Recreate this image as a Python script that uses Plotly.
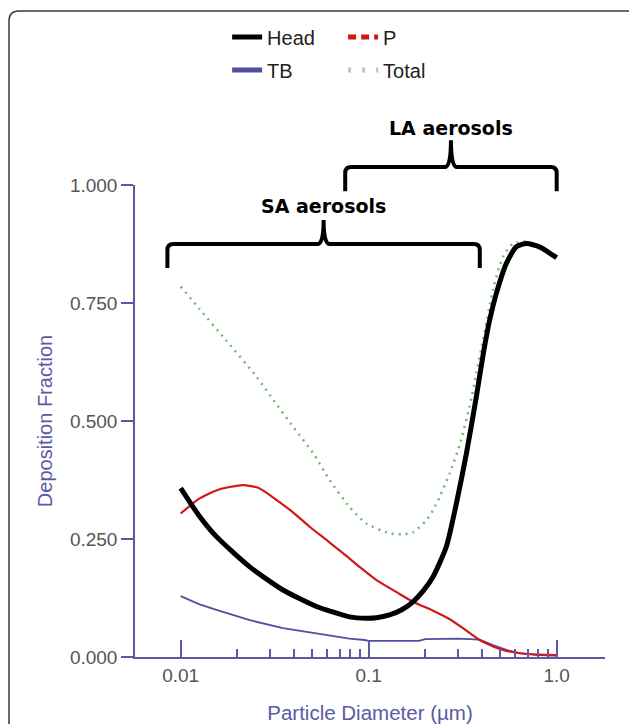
import plotly.graph_objects as go
import math

# ---------------- data ----------------
head_d = [0.01, 0.0125, 0.0155, 0.0233, 0.035, 0.0527, 0.065, 0.079, 0.097, 0.11, 0.129, 0.15, 0.172,
          0.195, 0.22, 0.259, 0.293, 0.331, 0.374, 0.406, 0.44, 0.478, 0.54, 0.61, 0.69, 0.81, 0.9, 1.0]
head_v = [0.358, 0.300, 0.255, 0.191, 0.142, 0.107, 0.095, 0.085, 0.082, 0.083, 0.089, 0.100, 0.117,
          0.140, 0.170, 0.234, 0.326, 0.431, 0.552, 0.640, 0.714, 0.771, 0.834, 0.869, 0.876, 0.869, 0.858, 0.846]

p_d = [0.01, 0.0125, 0.016, 0.0214, 0.026, 0.0323, 0.04, 0.0485, 0.06, 0.073, 0.09, 0.11, 0.14, 0.172,
       0.22, 0.27, 0.32, 0.389, 0.45, 0.518, 0.635, 0.8, 1.0]
p_v = [0.304, 0.335, 0.355, 0.364, 0.358, 0.333, 0.305, 0.276, 0.247, 0.220, 0.190, 0.163, 0.138, 0.117,
       0.098, 0.080, 0.060, 0.036, 0.024, 0.015, 0.008, 0.005, 0.004]

tb_d = [0.01, 0.0125, 0.0155, 0.0233, 0.035, 0.0527, 0.079, 0.095, 0.1, 0.185, 0.2, 0.3, 0.389, 0.458,
        0.54, 0.63, 0.8, 1.0]
tb_v = [0.129, 0.112, 0.100, 0.078, 0.061, 0.050, 0.039, 0.036, 0.034, 0.034, 0.038, 0.039, 0.037, 0.025,
        0.015, 0.008, 0.004, 0.003]

total_d = [0.01, 0.0126, 0.0175, 0.0253, 0.0316, 0.0396, 0.0506, 0.062, 0.079, 0.097, 0.129, 0.15, 0.172,
           0.203, 0.22, 0.239, 0.27, 0.305, 0.344, 0.374, 0.406, 0.458, 0.518, 0.586, 0.69, 0.81, 0.9, 1.0]
total_v = [0.785, 0.737, 0.670, 0.594, 0.541, 0.488, 0.432, 0.375, 0.318, 0.283, 0.262, 0.260, 0.264,
           0.290, 0.311, 0.340, 0.389, 0.450, 0.530, 0.601, 0.672, 0.778, 0.848, 0.876, 0.880, 0.870, 0.859, 0.848]

x_major = [0.01, 0.1, 1.0]
x_major_text = ["0.01", "0.1", "1.0"]
x_minor = [0.02, 0.03, 0.04, 0.05, 0.06, 0.07, 0.08, 0.09, 0.2, 0.3, 0.4, 0.5, 0.6, 0.7, 0.8, 0.9]
y_ticks = [0.0, 0.25, 0.5, 0.75, 1.0]

bracket_labels = ["SA aerosols", "LA aerosols"]
bracket_lo = [0.0085, 0.075]
bracket_hi = [0.39, 1.0]

# ---------------- style ----------------
AX = "#5a5aa6"
FONT = "Liberation Sans, Arial, sans-serif"
XR = [-2.243, 0.257]

fig = go.Figure()
fig.add_trace(go.Scatter(x=total_d, y=total_v, mode="lines", showlegend=False,
                         line=dict(color="#6fb86f", width=2.5, dash="2px,5px", shape="spline", smoothing=0.6)))
fig.add_trace(go.Scatter(x=tb_d, y=tb_v, mode="lines", name="TB", legend="legend2",
                         line=dict(color="#5050a0", width=1.8)))
fig.add_trace(go.Scatter(x=p_d, y=p_v, mode="lines", showlegend=False,
                         line=dict(color="#d01818", width=2.2, shape="spline", smoothing=0.6)))
fig.add_trace(go.Scatter(x=head_d, y=head_v, mode="lines", name="Head", legend="legend",
                         line=dict(color="black", width=5, shape="spline", smoothing=0.6)))
# legend-only samples matching the reference legend styles
fig.add_trace(go.Scatter(x=[None], y=[None], mode="lines", name="P", legend="legend",
                         line=dict(color="#d01818", width=3, dash="8px,5px")))
fig.add_trace(go.Scatter(x=[None], y=[None], mode="lines", name="Total", legend="legend2",
                         line=dict(color="#b8c8b8", width=3, dash="3px,11px")))

# brackets
def bracket_path(lo, hi, yh, yb, yt, r_px=6, w_px=6):
    fx = 10 ** (r_px / 188.0)
    fw = 10 ** (w_px / 188.0)
    ry = r_px / 472.0
    mid = math.sqrt(lo * hi)
    return (f"M {lo},{yb} L {lo},{yh - ry} Q {lo},{yh} {lo * fx},{yh} "
            f"L {mid / fw},{yh} Q {mid},{yh} {mid},{yt} Q {mid},{yh} {mid * fw},{yh} "
            f"L {hi / fx},{yh} Q {hi},{yh} {hi},{yh - ry} L {hi},{yb}")

levels = [(0.875, 0.824, 0.926, 0.9555), (1.038, 0.987, 1.095, 1.1208)]
shapes = []
annotations = []
for lab, lo, hi, (yh, yb, yt, ylab) in zip(bracket_labels, bracket_lo, bracket_hi, levels):
    shapes.append(dict(type="path", xref="x", yref="paper", path=bracket_path(lo, hi, yh, yb, yt),
                       line=dict(color="black", width=4)))
    annotations.append(dict(x=0.5 * (math.log10(lo) + math.log10(hi)), y=ylab, xref="x", yref="paper",
                            text=lab, showarrow=False, xanchor="center", yanchor="middle",
                            font=dict(family="DejaVu Sans", size=19, color="black", weight="bold")))

# frame border (rounded top-left)
def px2paper(px, py):
    return ((px - 135) / 470.0, (657 - py) / 472.0)
L, T = px2paper(9, 11)
R, B = px2paper(645, 745)
rx, ry = 10 / 470.0, 10 / 472.0
shapes.append(dict(type="path", xref="paper", yref="paper", layer="below",
                   path=f"M {L},{B} L {L},{T - ry} Q {L},{T} {L + rx},{T} L {R - rx},{T} Q {R},{T} {R},{T - ry} L {R},{B} Z",
                   line=dict(color="#3a3a3a", width=1.5), fillcolor="rgba(0,0,0,0)"))

fig.update_layout(
    width=629, height=724,
    margin=dict(l=135, r=24, t=185, b=67),
    paper_bgcolor="white", plot_bgcolor="white",
    font=dict(family=FONT, color="#555555"),
    shapes=shapes, annotations=annotations,
    legend=dict(orientation="h", x=0.196, y=1.3136, xanchor="left", yanchor="middle",
                entrywidth=71, font=dict(family=FONT, size=20, color="#222222"), bgcolor="rgba(0,0,0,0)",
                itemsizing="constant", traceorder="normal"),
    legend2=dict(orientation="h", x=0.196, y=1.2436, xanchor="left", yanchor="middle",
                 entrywidth=71, font=dict(family=FONT, size=20, color="#222222"), bgcolor="rgba(0,0,0,0)",
                 itemsizing="constant", traceorder="normal"),
)
fig.update_xaxes(type="log", range=XR, showgrid=False, zeroline=False, automargin=False,
                 showline=True, linecolor=AX, linewidth=1.5,
                 tickmode="array", tickvals=x_major, ticktext=x_major_text,
                 ticks="inside", ticklen=17, tickwidth=1.5, tickcolor=AX,
                 tickfont=dict(family=FONT, size=19, color="#555555"),
                 minor=dict(tickmode="array", tickvals=x_minor, ticks="inside", ticklen=8,
                            tickwidth=1.5, tickcolor=AX),
                 title=dict(text="Particle Diameter (µm)", font=dict(family=FONT, size=20.5, color=AX), standoff=22))
fig.update_yaxes(range=[0, 1.0], showgrid=False, zeroline=False, automargin=False,
                 showline=True, linecolor=AX, linewidth=1.5,
                 tickmode="array", tickvals=y_ticks, tickformat=".3f",
                 ticks="outside", ticklen=12, tickwidth=1.5, tickcolor=AX,
                 tickfont=dict(family=FONT, size=19, color="#555555"),
                 title=dict(text="Deposition Fraction", font=dict(family=FONT, size=20, color=AX), standoff=12))

fig.write_html("out.html")
